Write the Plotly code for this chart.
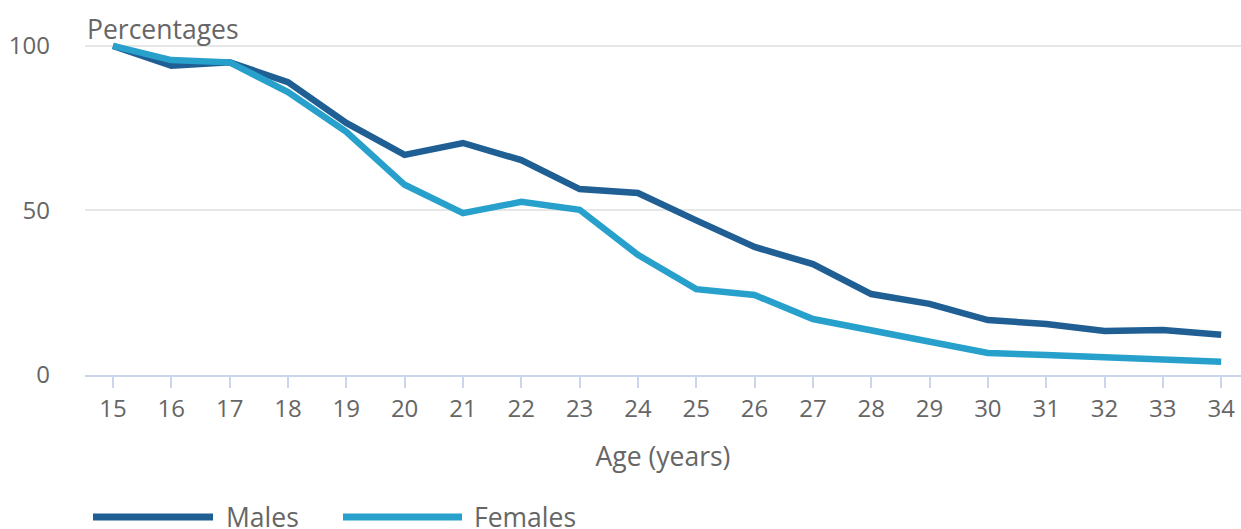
import plotly.graph_objects as go

ages = list(range(15, 35))
males = [100, 94, 95, 89, 76.6, 66.9, 70.5, 65.3, 56.5, 55.3, 47, 38.9, 33.7, 24.6, 21.6, 16.7, 15.5, 13.4, 13.7, 12.2]
females = [100, 95.7, 95, 86, 73.9, 57.8, 49.2, 52.6, 50.2, 36.5, 26.1, 24.3, 17, 13.4, 10.3, 6.7, 6.1, 5.5, 4.9, 4]
series_names = ["Males", "Females"]
colors = ["#205f94", "#27a1cc"]
y_ticks = [0, 50, 100]

FONT = "Open Sans"
TXT = "#666666"

fig = go.Figure()
for name, vals, col in zip(series_names, [males, females], colors):
    fig.add_trace(go.Scatter(x=ages, y=vals, mode="lines", name=name,
                             line=dict(color=col, width=6.5), showlegend=False))

W, H = 1241, 529
L, R, T, B = 85, 0, 39, 154
pw, ph = W - L - R, H - T - B

def px_x(px):
    return (px - L) / pw

def px_y(py):
    return (H - B - py) / ph

fig.update_layout(
    width=W, height=H,
    margin=dict(l=L, r=R, t=T, b=B),
    paper_bgcolor="white", plot_bgcolor="white",
    font=dict(family=FONT, size=24, color=TXT),
    xaxis=dict(range=[14.52, 34.34], tickmode="array", tickvals=ages,
               ticktext=[str(a) for a in ages],
               showgrid=False, zeroline=False,
               showline=True, linecolor="#ccd6eb", linewidth=2,
               ticks="outside", ticklen=11, tickwidth=2, tickcolor="#ccd6eb",
               tickfont=dict(size=24, color=TXT),
               title=dict(text="Age (years)", font=dict(size=26.5, color=TXT), standoff=25)),
    yaxis=dict(range=[0, 102.1], tickvals=y_ticks, ticktext=[str(v) for v in y_ticks],
               showgrid=True, gridcolor="#e6e6e6", gridwidth=2,
               zeroline=False, showline=False,
               ticklabelstandoff=34,
               tickfont=dict(size=24, color=TXT)),
)

fig.add_annotation(text="Percentages", xref="paper", yref="paper",
                   x=0, y=px_y(29), xanchor="left", yanchor="middle",
                   showarrow=False, font=dict(size=26.5, color=TXT))

# Manual legend
legend_items = [(93, 213, 224), (343, 462, 472)]
for (x0, x1, tx), name, col in zip(legend_items, series_names, colors):
    fig.add_shape(type="line", xref="paper", yref="paper",
                  x0=px_x(x0), x1=px_x(x1), y0=px_y(517), y1=px_y(517),
                  line=dict(color=col, width=7))
    fig.add_annotation(text=name, xref="paper", yref="paper",
                       x=px_x(tx), y=px_y(517), xanchor="left", yanchor="middle",
                       showarrow=False, font=dict(size=26.5, color=TXT))

fig.write_html("out.html", config={"displayModeBar": False},
               post_script="document.body.style.margin='0px';document.body.style.overflow='hidden';")
